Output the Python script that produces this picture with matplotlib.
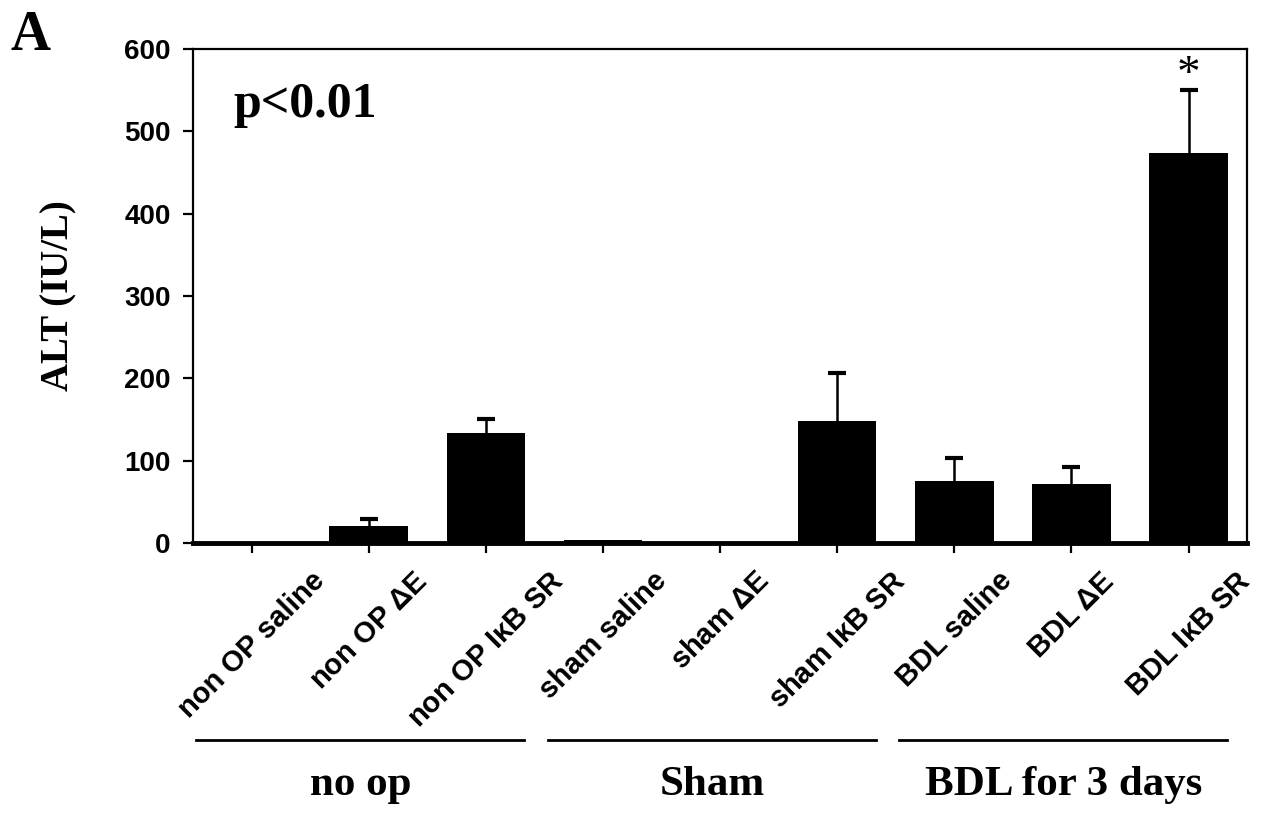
import matplotlib.pyplot as plt
import numpy as np

# bar labels, means and upper error (SEM)
labels = ["non OP saline", "non OP $\\Delta$E", "non OP I$\\kappa$B SR",
          "sham saline", "sham $\\Delta$E", "sham I$\\kappa$B SR",
          "BDL saline", "BDL $\\Delta$E", "BDL I$\\kappa$B SR"]
alt_mean = [1, 21, 134, 4, 1, 148, 75, 72, 474]
alt_err = [0, 8, 17, 0, 0, 58, 28, 20, 76]
yticks = [0, 100, 200, 300, 400, 500, 600]

groups = ["no op", "Sham", "BDL for 3 days"]
group_idx = [(0, 2), (3, 5), (6, 8)]
star_idx = 8

plt.rcParams['mathtext.fontset'] = 'custom'
plt.rcParams['mathtext.rm'] = 'Liberation Sans:bold'
plt.rcParams['mathtext.it'] = 'Liberation Sans:bold'
plt.rcParams['mathtext.bf'] = 'Liberation Sans:bold'

fig = plt.figure(figsize=(12.67, 8.33), dpi=100)
ax = fig.add_axes([0.1523, 0.3481, 0.8320, 0.5931])

x = np.arange(len(labels))
mean = np.array(alt_mean, dtype=float)
err = np.array(alt_err, dtype=float)
ax.bar(x, mean, width=0.67, color='black', zorder=3)

# upper-only error bars: stem + cap
has = err > 0
ax.vlines(x[has], mean[has], mean[has] + err[has], color='black', lw=1.8, zorder=2)
ax.plot(x[has], mean[has] + err[has], ls='none', marker='_', markersize=13,
        markeredgewidth=3, color='black', zorder=2)

ax.set_xlim(-0.5, 8.5)
ax.set_ylim(0, 600)
ax.set_yticks(yticks)
ax.set_yticklabels([str(t) for t in yticks], family='Liberation Sans',
                   fontweight='bold', fontsize=20)
ax.set_xticks(x)
ax.set_xticklabels(labels, rotation=45, ha='center', va='top',
                   family='Liberation Sans', fontweight='bold', fontsize=21)
ax.tick_params(axis='both', direction='out', length=7, width=1.6, colors='black')
ax.tick_params(axis='y', pad=9)
ax.tick_params(axis='x', pad=10)

for s in ['left', 'top', 'right']:
    ax.spines[s].set_linewidth(1.6)
ax.spines['bottom'].set_linewidth(3.5)
ax.spines['bottom'].set_zorder(4)

ax.set_ylabel("ALT (IU/L)", family='Liberation Serif', fontweight='bold',
              fontsize=28, labelpad=34)

ax.text(0.038, 0.887, "p<0.01", transform=ax.transAxes, family='Liberation Serif',
        fontweight='bold', fontsize=36, va='center', ha='left')

ax.text(star_idx, mean[star_idx] + err[star_idx] + 4, "*",
        family='Liberation Serif', fontsize=34, ha='center', va='baseline')

fig.text(0.008, 0.988, "A", family='Liberation Serif', fontweight='bold',
         fontsize=40, va='top', ha='left')

# group brackets under the tick labels
trans = ax.get_xaxis_transform()
for name, (a, b) in zip(groups, group_idx):
    x0, x1 = a - 0.47, b + 0.33
    ax.plot([x0, x1], [-0.399, -0.399], color='black', lw=2.0,
            transform=trans, clip_on=False)
    ax.text((x0 + x1) / 2, -0.49, name, transform=trans, ha='center', va='center',
            family='Liberation Serif', fontweight='bold', fontsize=31)

fig.savefig("out.png", dpi=100)
